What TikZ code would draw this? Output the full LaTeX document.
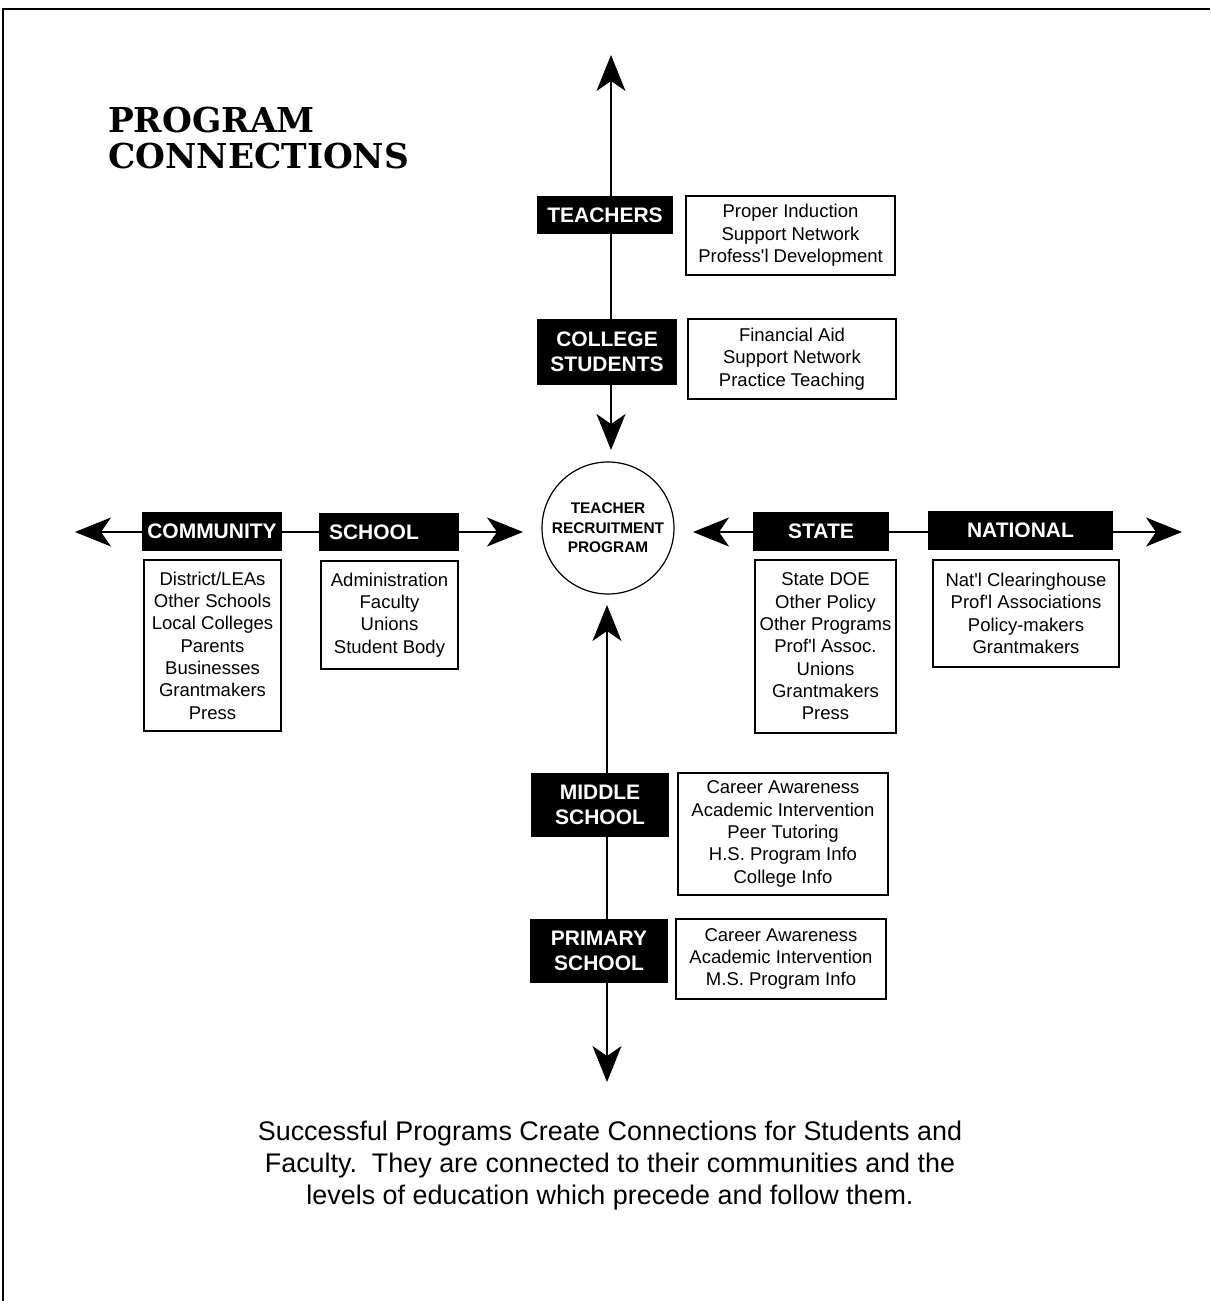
\documentclass[tikz,border=0pt]{standalone}
\usepackage{fontspec}
\setmainfont{Liberation Sans}[Ligatures=TeXOff]
\newfontfamily\headfont{DejaVu Serif}
\usetikzlibrary{arrows.meta}

\begin{document}
\begin{tikzpicture}[x=1pt, y=-1pt,
  link/.style={line width=1.2pt},
  pointer/.style={link, -{Stealth[length=36pt, width=29pt, inset=10pt]}},
  tag/.style={fill=black, text=white, inner sep=0pt, align=center,
    font=\bfseries\fontsize{21}{25}\selectfont},
  list/.style={draw, line width=1.2pt, inner sep=0pt, align=center,
    font=\fontsize{18.5}{22.3}\selectfont}]

  \useasboundingbox (0,0) rectangle (1210,1301);

  % page frame
  \draw[line width=1.5pt] (3,1301) -- (3,9) -- (1210,9);

  % title
  \node[anchor=base west, align=left, inner sep=0pt,
    font=\headfont\bfseries\fontsize{34.3}{36}\selectfont]
    (title) at (108,168) {PROGRAM\\CONNECTIONS};

  % hub
  \node[circle, draw, line width=1.2pt, minimum size=132pt, inner sep=0pt,
    align=center, font=\bfseries\fontsize{15.4}{19.5}\selectfont]
    (hub) at (608,528) {TEACHER\\RECRUITMENT\\PROGRAM};

  % axis ends
  \coordinate (topTip) at (611,55);
  \coordinate (hubTop) at (611,450);
  \coordinate (hubBottom) at (607,605);
  \coordinate (bottomTip) at (607,1082);
  \coordinate (leftTip) at (75,532);
  \coordinate (hubLeft) at (523,532);
  \coordinate (hubRight) at (693,532);
  \coordinate (rightTip) at (1182,532);

  % upper levels
  \node[tag, minimum width=136pt, minimum height=38pt] (teachers) at (605,215) {TEACHERS};
  \node[tag, minimum width=140pt, minimum height=66pt] (college) at (607,352) {COLLEGE\\STUDENTS};
  \node[list, minimum width=209pt, minimum height=79pt] (teachersList) at (790.5,235.5)
    {Proper Induction\\Support Network\\Profess'l Development};
  \node[list, minimum width=208pt, minimum height=80pt] (collegeList) at (792,359)
    {Financial Aid\\Support Network\\Practice Teaching};

  % lower levels
  \node[tag, minimum width=138pt, minimum height=64pt] (middle) at (600,805) {MIDDLE\\SCHOOL};
  \node[tag, minimum width=138pt, minimum height=64pt] (primary) at (599,951) {PRIMARY\\SCHOOL};
  \node[list, minimum width=210pt, minimum height=122pt] (middleList) at (783,834)
    {Career Awareness\\Academic Intervention\\Peer Tutoring\\H.S. Program Info\\College Info};
  \node[list, minimum width=210pt, minimum height=80pt] (primaryList) at (781,959)
    {Career Awareness\\Academic Intervention\\M.S. Program Info};

  % local side
  \node[tag, minimum width=140pt, minimum height=39pt] (community) at (212,531.5) {COMMUNITY};
  \node[tag, minimum width=140pt, minimum height=38pt, text width=120pt, align=left]
    (school) at (389,532) {SCHOOL};
  \node[list, minimum width=137pt, minimum height=171pt] (communityList) at (212.5,645.5)
    {District/LEAs\\Other Schools\\Local Colleges\\Parents\\Businesses\\Grantmakers\\Press};
  \node[list, minimum width=137pt, minimum height=108pt] (schoolList) at (389.5,615)
    {Administration\\Faculty\\Unions\\Student Body};

  % state and national side
  \node[tag, minimum width=136pt, minimum height=39pt] (state) at (821,531.5) {STATE};
  \node[tag, minimum width=185pt, minimum height=39pt] (national) at (1020.5,530.5) {NATIONAL};
  \node[list, minimum width=141pt, minimum height=173pt] (stateList) at (825.5,646.5)
    {State DOE\\Other Policy\\Other Programs\\Prof'l Assoc.\\Unions\\Grantmakers\\Press};
  \node[list, minimum width=186pt, minimum height=107pt] (nationalList) at (1026,613.5)
    {Nat'l Clearinghouse\\Prof'l Associations\\Policy-makers\\Grantmakers};

  % vertical connections
  \draw[pointer] (teachers.north -| topTip) -- (topTip);
  \draw[link] (teachers.south -| topTip) -- (college.north -| topTip);
  \draw[pointer] (college.south -| hubTop) -- (hubTop);
  \draw[pointer] (middle.north -| hubBottom) -- (hubBottom);
  \draw[link] (middle.south -| hubBottom) -- (primary.north -| hubBottom);
  \draw[pointer] (primary.south -| bottomTip) -- (bottomTip);

  % horizontal connections
  \draw[pointer] (community.west |- leftTip) -- (leftTip);
  \draw[link] (community.east |- leftTip) -- (school.west |- leftTip);
  \draw[pointer] (school.east |- hubLeft) -- (hubLeft);
  \draw[pointer] (state.west |- hubRight) -- (hubRight);
  \draw[link] (state.east |- hubRight) -- (national.west |- hubRight);
  \draw[pointer] (national.east |- rightTip) -- (rightTip);

  % caption
  \node[anchor=north, align=center, inner sep=0pt, font=\fontsize{26.9}{32}\selectfont]
    (caption) at (610,1121)
    {Successful Programs Create Connections for Students and\\
     Faculty.\ \ They are connected to their communities and the\\
     levels of education which precede and follow them.};

\end{tikzpicture}
\end{document}
